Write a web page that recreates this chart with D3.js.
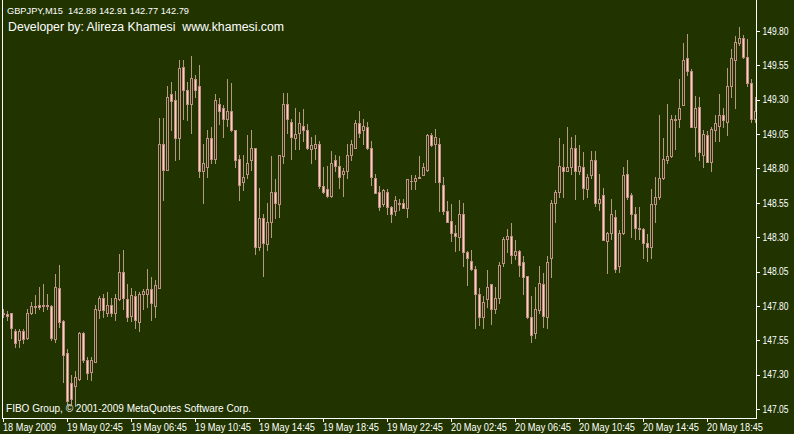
<!DOCTYPE html>
<html><head><meta charset="utf-8">
<script src="https://cdn.jsdelivr.net/npm/d3@7"></script>
<style>html,body{margin:0;padding:0;background:#213400;overflow:hidden}text{font-family:"Liberation Sans",Arial,sans-serif}</style>
</head><body>
<svg id="c" width="794" height="434"></svg>
<script>
const openP = [147.75,147.74,147.75,147.62,147.55,147.62,147.57,147.75,147.80,147.81,147.80,147.81,147.80,147.56,147.93,147.69,147.46,147.24,147.22,147.27,
147.60,147.41,147.32,147.39,147.77,147.86,147.75,147.81,147.75,147.85,148.05,147.85,147.73,147.87,147.68,147.89,147.89,147.92,147.80,147.93,
148.98,148.79,149.34,149.30,149.02,149.54,149.37,149.27,149.45,149.40,148.78,148.81,149.02,148.87,149.27,149.24,149.16,149.22,149.08,148.87,
148.70,148.76,148.86,148.95,148.23,148.44,148.25,148.41,148.63,148.54,148.89,149.27,149.14,149.02,149.06,149.11,149.08,148.94,148.95,148.98,
148.67,148.65,148.60,148.86,148.82,148.76,148.78,148.90,148.95,149.13,149.08,149.10,148.95,148.73,148.63,148.54,148.63,148.52,148.49,148.54,
148.55,148.51,148.71,148.71,148.73,148.75,148.79,149.04,148.98,148.98,148.68,148.49,148.42,148.33,148.30,148.47,148.19,148.13,148.07,147.89,
147.72,147.85,147.96,147.78,147.86,148.11,148.29,148.31,148.17,148.20,148.12,148.02,147.72,147.60,147.77,147.96,147.72,148.15,148.55,148.63,
148.81,148.78,148.81,148.95,148.78,148.81,148.65,148.75,148.86,148.55,148.61,148.27,148.33,148.45,148.09,148.33,148.76,148.61,148.47,148.37,
148.36,148.26,148.23,148.54,148.59,148.73,148.86,148.89,149.15,149.16,149.26,149.60,149.51,149.10,149.25,148.90,149.04,148.85,149.08,149.11,
149.19,149.14,149.40,149.59,149.71,149.75,149.61,149.42,149.16];
const highP = [147.78,147.76,147.75,147.63,147.63,147.63,147.78,147.83,147.88,147.94,147.96,147.89,147.81,148.03,148.10,147.70,147.49,147.30,147.33,147.61,
147.61,147.43,147.43,147.81,147.87,147.89,147.90,147.86,147.89,148.18,148.21,147.96,147.93,147.91,147.90,147.92,148.07,148.01,147.99,149.17,
149.17,149.40,149.43,149.36,149.59,149.59,149.43,149.62,149.48,149.55,148.98,149.08,149.10,149.34,149.31,149.26,149.45,149.42,149.08,148.90,
148.90,149.04,149.08,148.95,148.66,148.47,148.55,148.89,148.72,148.90,149.35,149.35,149.16,149.24,149.21,149.23,149.12,149.03,149.04,149.00,
148.81,148.82,148.93,148.90,148.89,148.80,148.98,149.01,149.15,149.22,149.16,149.14,149.00,148.76,148.67,148.65,148.65,148.53,148.60,148.58,
148.58,148.72,148.75,148.75,148.89,148.84,149.05,149.06,149.09,149.02,148.74,148.56,148.54,148.39,148.57,148.55,148.20,148.21,148.09,147.93,
147.87,148.06,147.96,147.94,148.12,148.30,148.36,148.40,148.28,148.21,148.16,148.02,147.87,147.94,148.09,148.04,148.16,148.57,148.64,149.02,
148.98,149.10,149.03,149.04,148.97,148.92,148.76,148.93,148.93,148.76,148.66,148.34,148.58,148.50,148.35,148.81,148.86,148.62,148.52,148.52,
148.37,148.32,148.65,148.74,149.19,149.02,149.27,149.19,149.19,149.45,149.71,149.78,149.52,149.33,149.32,149.08,149.07,149.10,149.19,149.34,
149.24,149.53,149.67,149.76,149.83,149.77,149.74,149.45,149.32];
const lowP = [147.72,147.70,147.57,147.50,147.50,147.53,147.56,147.74,147.75,147.78,147.76,147.78,147.55,147.54,147.65,147.25,147.09,147.09,147.07,147.26,
147.39,147.27,147.26,147.39,147.71,147.72,147.73,147.73,147.70,147.84,147.78,147.69,147.69,147.64,147.62,147.78,147.79,147.70,147.72,147.93,
148.57,148.79,149.08,148.86,148.87,149.16,149.15,149.06,149.32,148.74,148.55,148.74,148.84,148.84,149.12,149.03,149.11,149.07,148.81,148.57,
148.64,148.73,148.79,148.18,148.21,148.02,148.21,148.30,148.44,148.45,148.84,149.06,148.87,148.94,148.94,149.00,148.94,148.84,148.87,148.66,
148.62,148.59,148.59,148.78,148.66,148.60,148.73,148.86,148.95,149.03,148.98,148.94,148.68,148.62,148.50,148.53,148.47,148.41,148.46,148.50,
148.51,148.45,148.65,148.65,148.73,148.75,148.78,148.96,148.70,148.49,148.47,148.41,148.27,148.20,148.21,148.09,147.95,148.06,147.64,147.66,
147.64,147.79,147.67,147.75,147.82,148.09,148.19,148.11,148.14,148.02,147.89,147.71,147.54,147.57,147.75,147.65,147.64,148.01,148.41,148.59,
148.59,148.78,148.76,148.58,148.76,148.58,148.59,148.73,148.53,148.50,148.28,148.04,148.29,148.05,148.05,148.32,148.58,148.30,148.29,148.29,
148.15,148.13,148.15,148.41,148.58,148.72,148.84,148.88,148.94,149.10,149.26,149.48,149.10,148.89,148.86,148.81,148.85,148.78,149.00,149.00,
149.10,149.04,149.32,149.24,149.70,149.60,149.40,149.14,149.14];
const closeP = [147.74,147.73,147.64,147.53,147.62,147.56,147.75,147.80,147.79,147.79,147.81,147.80,147.57,147.94,147.68,147.44,147.11,147.12,147.28,147.60,
147.41,147.31,147.41,147.78,147.86,147.77,147.81,147.75,147.86,148.05,147.86,147.72,147.88,147.70,147.89,147.91,147.92,147.82,147.95,148.98,
148.79,149.32,149.29,149.02,149.53,149.37,149.27,149.46,149.37,148.78,148.84,149.02,148.87,149.30,149.22,149.16,149.22,149.08,148.86,148.68,
148.74,148.84,148.95,148.23,148.44,148.26,148.41,148.63,148.55,148.90,149.27,149.16,149.03,149.05,149.13,149.08,148.95,148.97,148.98,148.67,
148.63,148.60,148.84,148.82,148.74,148.78,148.90,148.98,149.13,149.06,149.11,148.95,148.74,148.62,148.52,148.64,148.52,148.47,148.57,148.55,
148.51,148.72,148.71,148.73,148.74,148.81,149.04,148.97,149.03,148.70,148.49,148.41,148.33,148.31,148.47,148.19,148.15,148.07,147.89,147.72,
147.83,147.94,147.78,147.86,148.10,148.29,148.31,148.17,148.20,148.10,148.01,147.72,147.59,147.78,147.97,147.73,148.12,148.55,148.63,148.82,
148.78,148.81,148.95,148.78,148.82,148.66,148.74,148.86,148.55,148.58,148.28,148.33,148.47,148.07,148.33,148.75,148.59,148.47,148.37,148.36,
148.26,148.23,148.54,148.59,148.73,148.87,148.89,149.16,149.16,149.24,149.59,149.51,149.10,149.24,148.92,149.05,148.85,149.09,149.13,149.19,
149.15,149.40,149.60,149.72,149.75,149.61,149.42,149.16,149.22];
const priceTicks = [149.80,149.55,149.30,149.05,148.80,148.55,148.30,148.05,147.80,147.55,147.30,147.05];
const timeTickIdx = [0,16,32,48,64,80,96,112,128,144,160,176];
const timeLabels = ["18 May 2009","19 May 02:45","19 May 06:45","19 May 10:45","19 May 14:45","19 May 18:45","19 May 22:45","20 May 02:45","20 May 06:45","20 May 10:45","20 May 14:45","20 May 18:45"];
const titleText = "GBPJPY,M15  142.88 142.91 142.77 142.79";
const devText = "Developer by: Alireza Khamesi  www.khamesi.com";
const copyText = "FIBO Group, \u00a9 2001-2009 MetaQuotes Software Corp.";

const BG = "#213400", FG = "#ffffff", OUTLINE = "#c09088", WICK = "#b49a84", BEAR = "#ffcdc0";
const FONT = "'Liberation Sans',Arial,sans-serif";
const svg = d3.select("#c");
svg.append("rect").attr("width",794).attr("height",434).attr("fill",BG);

const x = d3.scaleLinear().domain([0,188]).range([3,755]);
const y = d3.scaleLinear().domain([147.05,149.80]).range([409,31]);

svg.append("defs").append("clipPath").attr("id","plot").append("rect")
  .attr("x",3).attr("y",0).attr("width",753).attr("height",418);

const data = openP.map((o,i)=>({i,o,h:highP[i],l:lowP[i],c:closeP[i]}));
const g = svg.append("g").attr("clip-path","url(#plot)").attr("shape-rendering","crispEdges");
const cg = g.selectAll("g.k").data(data).join("g").attr("class","k");
cg.append("rect").attr("x",d=>Math.round(x(d.i))).attr("width",1)
  .attr("y",d=>Math.round(y(d.h))).attr("height",d=>Math.round(y(d.l))-Math.round(y(d.h))+1).attr("fill",WICK);
cg.append("rect").attr("x",d=>Math.round(x(d.i))-1).attr("width",3)
  .attr("y",d=>Math.round(y(Math.max(d.o,d.c))))
  .attr("height",d=>Math.round(y(Math.min(d.o,d.c)))-Math.round(y(Math.max(d.o,d.c)))+1)
  .attr("fill",OUTLINE);
cg.filter(d=>Math.round(y(Math.min(d.o,d.c)))-Math.round(y(Math.max(d.o,d.c)))>=2)
  .append("rect").attr("x",d=>Math.round(x(d.i))).attr("width",1)
  .attr("y",d=>Math.round(y(Math.max(d.o,d.c)))+1)
  .attr("height",d=>Math.round(y(Math.min(d.o,d.c)))-Math.round(y(Math.max(d.o,d.c)))-1)
  .attr("fill",d=>d.c<d.o?BEAR:BG);

// frame lines
const fr = svg.append("g").attr("shape-rendering","crispEdges").attr("fill",FG);
fr.append("rect").attr("x",2).attr("y",0).attr("width",1).attr("height",419);
fr.append("rect").attr("x",756).attr("y",0).attr("width",1).attr("height",419);
fr.append("rect").attr("x",2).attr("y",418).attr("width",755).attr("height",1);

// right axis
const ay = svg.append("g").attr("transform","translate(756.5,0)")
  .call(d3.axisRight(y).tickValues(priceTicks).tickFormat(d3.format(".2f")).tickSize(3).tickSizeOuter(0).tickPadding(4));
ay.select(".domain").remove();
ay.selectAll("line").attr("stroke",FG).attr("shape-rendering","crispEdges");
ay.selectAll("text").attr("fill",FG).style("font-size","10px").style("font-family",FONT).attr("x",6)
  .attr("textLength",26).attr("lengthAdjust","spacingAndGlyphs");

// bottom axis
const ax = svg.append("g").attr("transform","translate(0,418.5)")
  .call(d3.axisBottom(x).tickValues(timeTickIdx).tickFormat((d,k)=>timeLabels[k]).tickSize(3).tickSizeOuter(0));
ax.select(".domain").remove();
ax.selectAll("line").attr("stroke",FG).attr("shape-rendering","crispEdges");
ax.selectAll("text").attr("fill",FG).attr("text-anchor","start").attr("x",-0.5).attr("y",12.5).attr("dy",null)
  .style("font-size","10px").style("font-family",FONT)
  .attr("textLength",(d,k)=>k===0?53:56).attr("lengthAdjust","spacingAndGlyphs");

svg.append("text").attr("x",7).attr("y",14).attr("fill",FG).style("font-size","9.5px").style("white-space","pre")
  .attr("textLength",182).attr("lengthAdjust","spacingAndGlyphs").text(titleText);
svg.append("text").attr("x",8).attr("y",31).attr("fill",FG).style("font-size","12.3px").style("white-space","pre").text(devText);
svg.append("text").attr("x",6).attr("y",412).attr("fill",FG).style("font-size","10px").style("white-space","pre")
  .attr("textLength",245).attr("lengthAdjust","spacingAndGlyphs").text(copyText);
</script>
</body></html>
